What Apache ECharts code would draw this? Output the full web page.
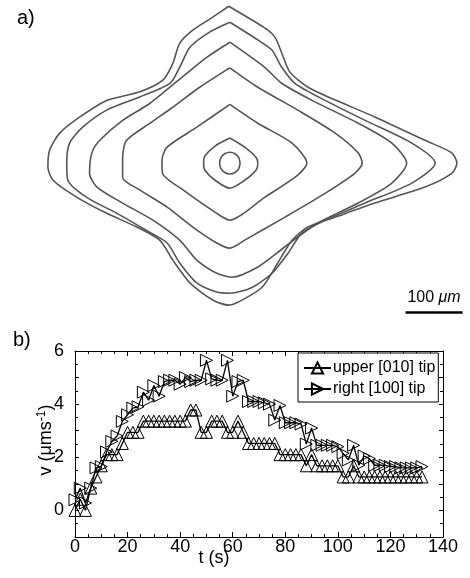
<!DOCTYPE html>
<html>
<head>
<meta charset="utf-8">
<script src="https://cdn.jsdelivr.net/npm/echarts@6/dist/echarts.min.js"></script>
<style>
html,body{margin:0;padding:0;background:#fff;}
#c{width:470px;height:578px;}
</style>
</head>
<body>
<div id="c"></div>
<script>
// ---------- panel b data ----------
var times = [0,2,4,6,8,10,12,14,16,18,20,22,24,26,28,30,32,34,36,38,40,42,44,46,48,50,52,54,56,58,60,62,64,66,68,70,72,74,76,78,80,82,84,86,88,90,92,94,96,98,100,102,104,106,108,110,112,114,116,118,120,122,124,126,128,130,132];
var upperV = [0,0.42,0,0.84,1.26,1.68,2.1,2.1,2.1,2.52,2.94,2.94,2.94,3.36,3.36,3.36,3.36,3.36,3.36,3.36,3.36,3.36,3.78,3.78,2.94,2.94,3.36,3.36,3.36,2.94,2.94,3.36,2.94,2.52,2.52,2.52,2.52,2.52,2.52,2.1,2.1,2.1,2.1,2.1,1.68,2.1,1.68,1.68,1.68,1.68,1.68,1.26,1.26,1.68,1.26,1.26,1.26,1.26,1.26,1.26,1.26,1.26,1.26,1.26,1.26,1.26,1.26];
var rightV = [0.4,0.84,0.28,0.84,1.6,1.65,2.2,2.6,2.8,3.35,3.6,3.85,3.9,4.45,4.15,4.7,4.3,4.85,4.9,4.9,4.75,5.0,4.85,4.9,4.9,5.65,4.95,4.9,4.9,5.65,4.3,4.85,4.9,4.1,4.1,4.1,4.05,4.0,3.4,3.95,3.3,3.3,3.3,3.25,2.5,3.1,2.45,2.45,2.45,2.45,2.4,2.15,1.9,2.45,1.7,2.05,1.95,1.7,1.7,1.7,1.65,1.65,1.6,1.6,1.6,1.6,1.65];
var seriesNames = ['upper [010] tip', 'right [100] tip'];
var xTicks = [0, 140, 20];   // min, max, step
var yTicks = [-1, 6, 1];

// ---------- panel a data (crystal outlines, µm from nucleus) ----------
var contour1 = [[18,0],[15.6,9.5],[9,16.5],[0,19],[-9,16.5],[-15.6,9.5],[-18,0],[-15.6,-9.5],[-9,-16.5],[0,-19],[9,-16.5],[15.6,-9.5]];
var contour2 = [[0,44],[26,28],[46,10],[49,0],[46,-12],[26,-30],[0,-44],[-26,-30],[-44,-12],[-46,0],[-44,12],[-26,30]];
var contour3 = [[0,103],[49,70],[109,35],[135,0],[119,-21],[61,-60],[0,-100],[-23,-88],[-82,-47],[-118,-18],[-119,5],[-110,28],[-58,63]];
var contour4 = [[0,167],[49,133],[119,93],[184,53],[225,18],[232,0],[219,-18],[167,-53],[96,-95],[26,-135],[0,-149],[-23,-140],[-65,-112],[-110,-77],[-158,-47],[-188,-25],[-188,10],[-181,40],[-140,70],[-100,98],[-53,133]];
var contour5 = [[0,212],[61,168],[91,140],[144,110],[225,70],[284,35],[310,0],[284,-35],[225,-70],[154,-105],[96,-147],[49,-182],[3,-200],[-23,-193],[-58,-170],[-88,-135],[-135,-100],[-188,-70],[-233,-42],[-246,-18],[-242,18],[-228,40],[-188,75],[-140,105],[-75,158],[-40,186]];
var contour6 = [[0,247],[49,216],[74,198],[91,168],[114,140],[167,110],[237,75],[319,35],[360,0],[319,-35],[237,-70],[167,-100],[126,-123],[102,-158],[74,-193],[39,-218],[0,-228],[-23,-226],[-58,-210],[-88,-175],[-110,-140],[-146,-118],[-198,-88],[-251,-60],[-284,-30],[-286,0],[-281,35],[-258,63],[-216,93],[-158,116],[-105,140],[-88,168],[-70,203],[-35,230]];
var contour7 = [[-2,275],[61,237],[79,221],[91,193],[105,160],[137,133],[184,111],[254,81],[342,40],[389,18],[398,0],[389,-18],[342,-42],[254,-70],[184,-95],[137,-112],[109,-135],[84,-175],[56,-218],[14,-244],[-2,-249],[-30,-240],[-70,-210],[-100,-170],[-123,-135],[-163,-112],[-216,-88],[-268,-60],[-310,-30],[-319,-7],[-316,23],[-298,53],[-263,81],[-216,110],[-158,125],[-117,146],[-100,175],[-88,210],[-65,233],[-30,256]];
var contours = [contour1, contour2, contour3, contour4, contour5, contour6, contour7];
var scaleBar = [[308,-262],[408,-262]];  // 100 µm

var FONT = 'Liberation Sans, Arial, Helvetica, sans-serif';

var chart = echarts.init(document.getElementById('c'), null, {renderer:'canvas'});

var series = [];
contours.forEach(function(c){
  series.push({
    type:'line', xAxisIndex:0, yAxisIndex:0, silent:true,
    data: c.concat([c[0]]), symbol:'none', smooth:0.25,
    lineStyle:{color:'#555', width:1.6}
  });
});
series.push({
  type:'line', xAxisIndex:0, yAxisIndex:0, silent:true, data: scaleBar,
  symbol:'none', lineStyle:{color:'#000', width:2.5}
});
series.push({
  name: seriesNames[0], type:'line', xAxisIndex:1, yAxisIndex:1,
  data: times.map(function(t,i){return [t, upperV[i]];}),
  symbol:'triangle', symbolSize:12,
  itemStyle:{color:'rgba(255,255,255,0)', borderColor:'#000', borderWidth:1},
  lineStyle:{color:'#000', width:1.3}
});
series.push({
  name: seriesNames[1], type:'line', xAxisIndex:1, yAxisIndex:1,
  data: times.map(function(t,i){return [t, rightV[i]];}),
  symbol:'triangle', symbolSize:12, symbolRotate:-90,
  itemStyle:{color:'rgba(255,255,255,0)', borderColor:'#000', borderWidth:1},
  lineStyle:{color:'#000', width:1.3}
});

function bAxis(pos, showLabel, isX){
  var t = isX ? xTicks : yTicks;
  return {
    type:'value', gridIndex:1, position:pos, min:t[0], max:t[1], interval:t[2],
    axisLine:{show:true, onZero:false, lineStyle:{color:'#000', width:1}},
    axisTick:{show:true, inside:true, length: isX?5:4, lineStyle:{color:'#000', width:1}},
    minorTick:{show:true, splitNumber: isX?4:2, length:3, lineStyle:{color:'#000', width:1}},
    splitLine:{show:false}, minorSplitLine:{show:false},
    axisLabel:{show:showLabel, color:'#000', fontSize:18, fontFamily:FONT, margin: isX?1:11,
      formatter: isX ? '{value}' : function(v){ return (v % 2 === 0) ? String(v) : ''; }}
  };
}

var option = {
  animation:false,
  backgroundColor:'#fff',
  grid:[
    {left:0, top:0, width:470, height:320, show:false},
    {left:75, top:351, width:368, height:186, show:false}
  ],
  xAxis:[
    {type:'value', gridIndex:0, min:-403, max:421, show:false},
    bAxis('bottom', true, true),
    bAxis('top', false, true)
  ],
  yAxis:[
    {type:'value', gridIndex:0, min:-275, max:286, show:false},
    bAxis('left', true, false),
    bAxis('right', false, false)
  ],
  legend:{
    data: seriesNames, orient:'vertical', left:298, top:353,
    backgroundColor:'#fff', borderColor:'#000', borderWidth:1, borderRadius:0,
    padding:[7,3,5,5], itemWidth:27, itemHeight:14, itemGap:5,
    textStyle:{fontSize:16, color:'#000', fontFamily:FONT, padding:[0,0,0,-3]}
  },
  graphic:[
    {type:'text', x:17, y:18, style:{text:'a)', font:'20px '+FONT, fill:'#000', verticalAlign:'middle'}},
    {type:'text', x:13, y:340, style:{text:'b)', font:'20px '+FONT, fill:'#000', verticalAlign:'middle'}},
    {type:'text', x:434, y:298, style:{text:'{n|100 }{u|μm}', align:'center', verticalAlign:'middle', fill:'#000',
      rich:{n:{fontSize:16, fontFamily:FONT, fill:'#000'}, u:{fontSize:16, fontFamily:FONT, fontStyle:'italic', fill:'#000'}}}},
    {type:'text', x:214, y:558, style:{text:'t (s)', font:'18px '+FONT, fill:'#000', align:'center', verticalAlign:'middle'}},
    {type:'text', x:46, y:440, rotation:Math.PI/2,
      style:{text:'{a|v (μms}{b|-1}{a|)}', align:'center', verticalAlign:'middle', fill:'#000',
        rich:{a:{fontSize:18, fontFamily:FONT, lineHeight:20, fill:'#000'},
              b:{fontSize:12, fontFamily:FONT, lineHeight:12, verticalAlign:'top', fill:'#000'}}}}
  ],
  series: series
};
chart.setOption(option);
</script>
</body>
</html>
